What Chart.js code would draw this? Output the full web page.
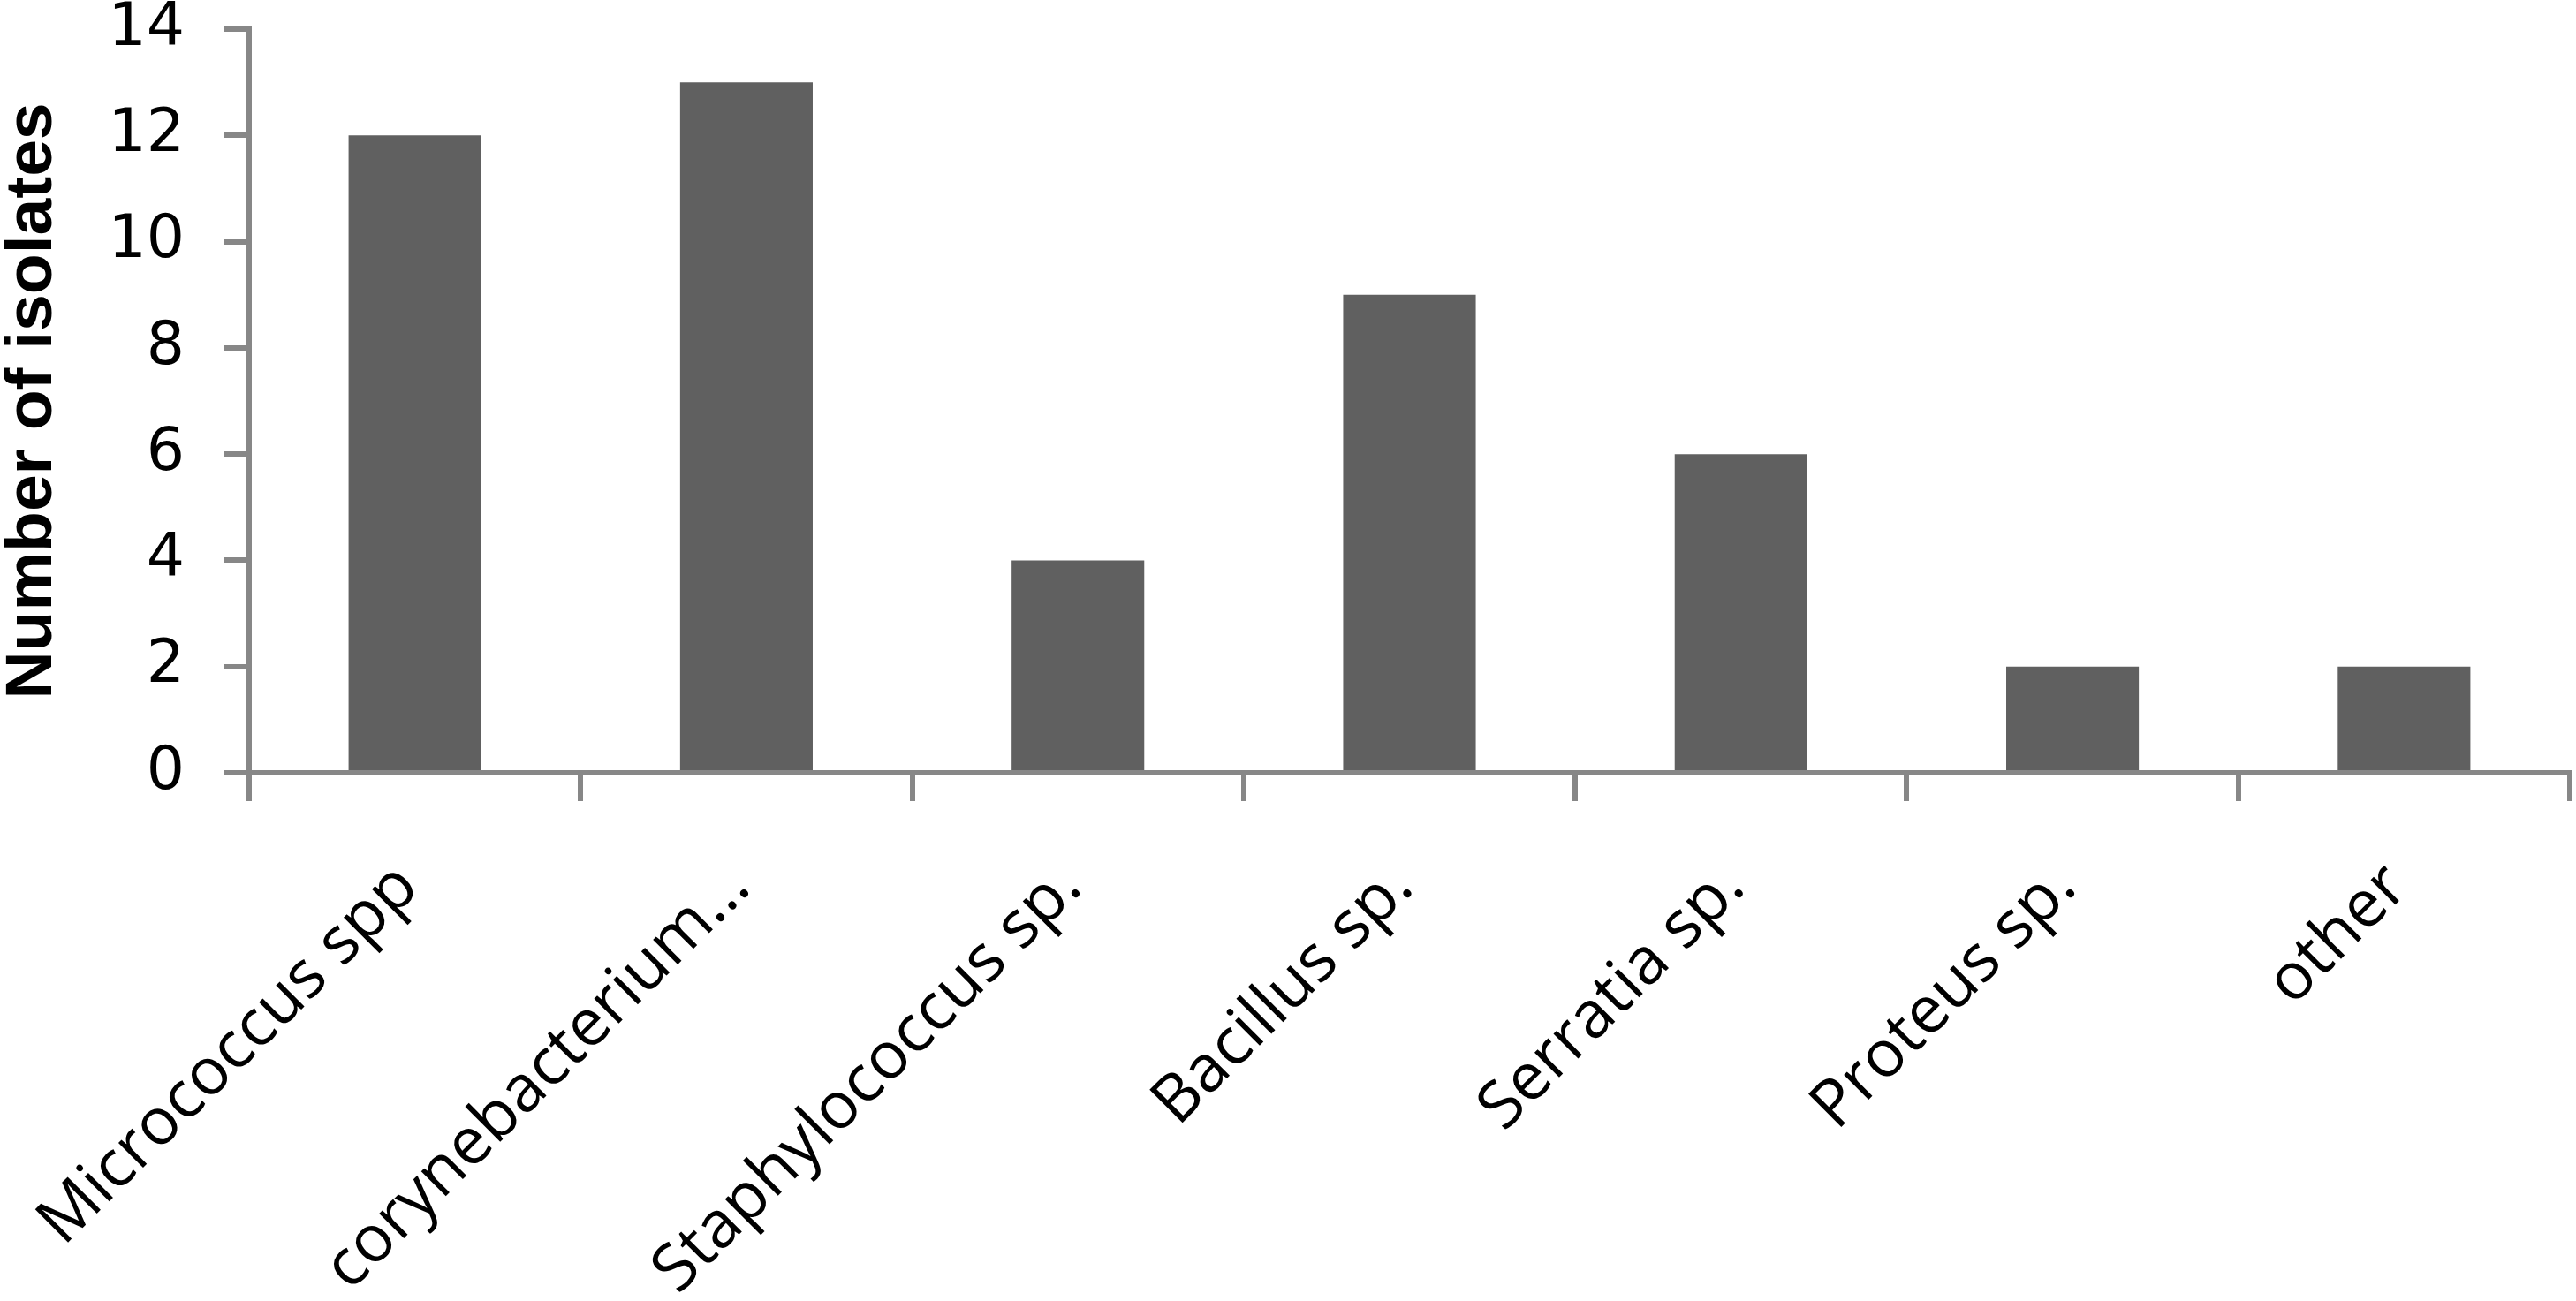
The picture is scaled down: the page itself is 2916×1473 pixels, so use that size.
<!DOCTYPE html>
<html>
<head>
<meta charset="utf-8">
<script src="https://cdn.jsdelivr.net/npm/chart.js@4.4.0/dist/chart.umd.min.js"></script>
<style>
  html, body { margin: 0; padding: 0; background: #ffffff; }
  #wrap { width: 2916px; height: 1473px; }
</style>
</head>
<body>
<div id="wrap"><canvas id="chart" width="2916" height="1473"></canvas></div>
<script>
// values
const categories = ['Micrococcus spp', 'corynebacterium\u2026', 'Staphylococcus sp.', 'Bacillus sp.', 'Serratia sp.', 'Proteus sp.', 'other'];
const isolates = [12, 13, 4, 9, 6, 2, 2];
const yTicks = [0, 2, 4, 6, 8, 10, 12, 14];

const axisGray = '#878787';
const barGray = '#606060';

const ctx = document.getElementById('chart').getContext('2d');
new Chart(ctx, {
  type: 'bar',
  data: {
    labels: categories,
    datasets: [{
      label: 'Number of isolates',
      data: isolates,
      backgroundColor: barGray,
      borderWidth: 0,
      barPercentage: 0.4,
      categoryPercentage: 1.0
    }]
  },
  options: {
    responsive: false,
    devicePixelRatio: 1,
    animation: false,
    layout: { padding: { top: 33, right: 7, left: 0, bottom: 0 } },
    plugins: {
      legend: { display: false },
      tooltip: { enabled: false }
    },
    scales: {
      x: {
        offset: true,
        grid: { offset: true, drawOnChartArea: false, drawTicks: true, tickLength: 32, color: axisGray, lineWidth: 6 },
        border: { color: axisGray, width: 6 },
        ticks: {
          autoSkip: false,
          maxRotation: 45,
          minRotation: 45,
          padding: 54,
          labelOffset: -8,
          color: '#000000',
          font: { family: 'Open Sans', size: 74 }
        },
        afterFit(scale) {
          scale.height = 598;
          scale.paddingLeft = 0;
          scale.paddingRight = 0;
        }
      },
      y: {
        min: 0,
        max: 14,
        afterBuildTicks(scale) { scale.ticks = yTicks.map(v => ({ value: v })); },
        grid: { drawOnChartArea: false, drawTicks: true, tickLength: 29, color: axisGray, lineWidth: 6 },
        border: { color: axisGray, width: 6 },
        ticks: {
          padding: 44,
          color: '#000000',
          font: { family: 'DejaVu Sans', size: 68, lineHeight: 0.9 }
        },
        title: {
          display: true,
          text: 'Number of isolates',
          color: '#000000',
          font: { family: 'Liberation Sans', weight: 'bold', size: 75, lineHeight: 1 },
          padding: { top: 0, bottom: 0 }
        },
        afterFit(scale) {
          scale.width = 282;
          scale.paddingTop = 0;
          scale.paddingBottom = 0;
        }
      }
    }
  }
});
</script>
</body>
</html>
